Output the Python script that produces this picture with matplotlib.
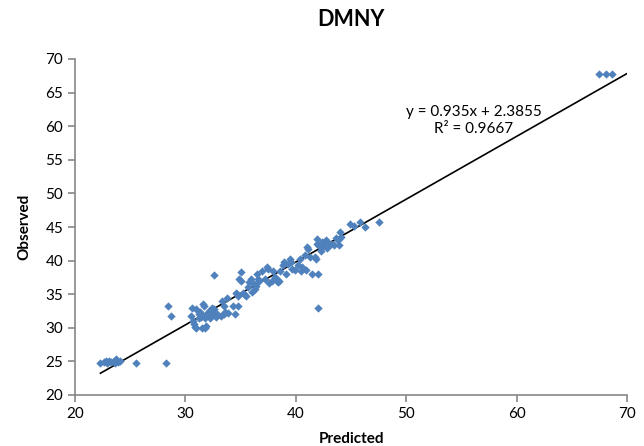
import matplotlib
matplotlib.use("Agg")
import matplotlib.pyplot as plt
import numpy as np

plt.rcParams['font.family'] = ['Lato', 'DejaVu Sans']

predicted = [22.3, 22.6, 22.8, 22.9, 23.0, 23.1, 23.3, 23.5, 23.6, 23.7, 23.9, 24.1, 25.5, 28.2,
             28.4, 28.7,
             30.5, 30.6, 30.8, 30.9, 31.0, 31.2, 31.0, 30.7,
             31.3, 31.5, 31.6, 31.7, 31.8, 31.9, 31.5, 32.0, 31.4, 31.8, 32.1, 31.2,
             32.3, 32.5, 32.6, 32.8, 32.9, 32.4, 32.2, 32.6,
             33.2, 33.5, 33.6, 33.3, 33.8, 33.9, 33.5,
             34.3, 34.5, 34.8, 34.9, 35.0, 34.6, 35.0, 34.7, 34.8,
             35.3, 35.5, 35.7, 35.9, 35.8, 35.2,
             36.0, 36.2, 36.3, 36.5, 36.7, 36.9, 36.6, 36.4,
             37.2, 37.5, 37.6, 37.8, 37.4, 37.9,
             38.1, 38.3, 38.5, 38.6, 38.8, 38.9, 38.4,
             39.1, 39.3, 39.5, 39.7, 39.9, 39.6,
             40.2, 40.4, 40.6, 40.8, 40.9, 40.5, 41.0,
             41.1, 41.3, 41.5, 41.7, 41.9, 41.9, 42.0, 41.8, 42.0,
             42.2, 42.3, 42.5, 42.7, 42.4, 42.9, 42.8, 42.6,
             43.2, 43.5, 43.8, 44.0, 43.9, 44.1, 43.6,
             44.9, 45.3, 45.8, 46.3, 47.5,
             67.5, 68.1, 68.6]

observed = [24.8, 24.9, 25.0, 24.8, 24.9, 25.0, 24.9, 25.1, 24.8, 25.3, 24.9, 25.0, 24.8, 24.8,
            33.3, 31.8,
            31.8, 32.9, 30.5, 30.1, 32.8, 31.5, 30.0, 31.0,
            32.3, 31.9, 33.5, 33.2, 30.0, 30.3, 29.9, 32.0, 31.6, 31.4, 32.5, 32.0,
            31.8, 32.3, 32.8, 31.6, 32.0, 33.0, 31.5, 37.9,
            31.7, 32.0, 32.3, 34.0, 34.5, 32.2, 33.2,
            33.3, 32.1, 34.8, 37.2, 38.3, 35.2, 37.0, 35.0, 33.3,
            35.0, 34.8, 36.0, 37.3, 36.8, 35.2,
            35.3, 36.5, 35.8, 38.0, 36.9, 38.5, 37.2, 36.2,
            37.3, 38.8, 36.6, 37.0, 39.0, 38.5,
            37.5, 36.9, 37.0, 38.5, 39.3, 39.8, 36.8,
            38.0, 39.5, 40.3, 38.7, 38.6, 39.8,
            39.3, 40.3, 39.0, 40.8, 38.6, 38.5, 42.0,
            41.8, 40.5, 38.0, 40.6, 43.2, 42.5, 33.0, 40.3, 38.0,
            42.0, 41.5, 42.2, 43.0, 42.8, 42.4, 41.9, 42.8,
            42.5, 42.3, 43.0, 44.2, 42.3, 43.5, 43.3,
            45.4, 45.2, 45.8, 45.0, 45.8,
            67.8, 67.8, 67.8]

slope = 0.935
intercept = 2.3855
r_squared = 0.9667

fig = plt.figure(figsize=(6.44, 4.46), dpi=100)
ax = fig.add_axes([75/644, 1-395/446, (627-75)/644, (395-59)/446])

ax.scatter(predicted, observed, marker='D', s=18, color='#4F81BD', linewidths=0, zorder=3)

xl = np.array([min(predicted), 70])
ax.plot(xl, slope*xl + intercept, color='black', lw=1.2, zorder=2)

ax.set_xlim(20, 70)
ax.set_ylim(20, 70)
ax.set_xticks(range(20, 71, 10))
ax.set_yticks(range(20, 71, 5))
for s in ['top', 'right']:
    ax.spines[s].set_visible(False)
for s in ['left', 'bottom']:
    ax.spines[s].set_color('#868686')
    ax.spines[s].set_linewidth(1.2)
ax.tick_params(direction='out', length=5, width=1.2, color='#868686', labelsize=11, labelcolor='black')

ax.set_xlabel('Predicted', fontsize=11, fontweight='bold', labelpad=8)
ax.set_ylabel('Observed', fontsize=11, fontweight='bold', labelpad=10)
fig.text(351/644, 1-20/446, 'DMNY', ha='center', va='center', fontsize=15.5, fontweight='bold')

ax.text(56.1, 60.85, f'y = {slope}x + {intercept}\nR² = {r_squared}', ha='center', va='center',
        fontsize=11, linespacing=1.3)

fig.savefig('out.png', dpi=100)
